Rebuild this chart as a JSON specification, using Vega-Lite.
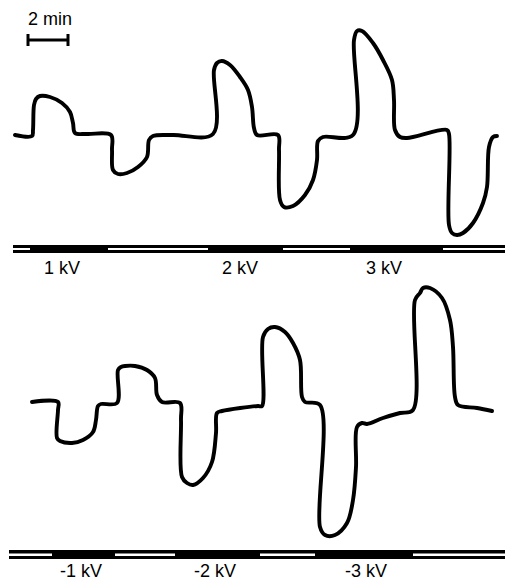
{
  "$schema": "https://vega.github.io/schema/vega-lite/v6.json",
  "padding": 0,
  "spacing": 0,
  "background": "white",
  "config": {
    "view": {"stroke": null},
    "concat": {"spacing": 0}
  },
  "datasets": {
    "traceTop": [
      {"i": 1, "t": 0.75, "s": 0}, {"i": 2, "t": 1.6, "s": -0.1}, {"i": 3, "t": 1.65, "s": 0.5}, {"i": 4, "t": 1.7, "s": 3.0},
      {"i": 5, "t": 1.8, "s": 3.6}, {"i": 6, "t": 2.0, "s": 3.9}, {"i": 7, "t": 2.5, "s": 3.8}, {"i": 8, "t": 3.1, "s": 3.2},
      {"i": 9, "t": 3.5, "s": 2.3}, {"i": 10, "t": 3.65, "s": 1.2}, {"i": 11, "t": 3.75, "s": 0.2}, {"i": 12, "t": 4.35, "s": 0.1},
      {"i": 13, "t": 5.55, "s": 0}, {"i": 14, "t": 5.6, "s": -1.5}, {"i": 15, "t": 5.65, "s": -3.5}, {"i": 16, "t": 5.9, "s": -3.9},
      {"i": 17, "t": 6.35, "s": -3.8}, {"i": 18, "t": 6.9, "s": -3.2}, {"i": 19, "t": 7.35, "s": -2.2}, {"i": 20, "t": 7.45, "s": -0.5},
      {"i": 21, "t": 7.65, "s": -0.1}, {"i": 22, "t": 8.65, "s": 0}, {"i": 23, "t": 10.65, "s": 0.1}, {"i": 24, "t": 10.7, "s": 6.5},
      {"i": 25, "t": 10.85, "s": 7.2}, {"i": 26, "t": 11.1, "s": 7.4}, {"i": 27, "t": 11.5, "s": 7.0}, {"i": 28, "t": 12.0, "s": 5.8},
      {"i": 29, "t": 12.4, "s": 4.5}, {"i": 30, "t": 12.6, "s": 2.8}, {"i": 31, "t": 12.7, "s": 0.7}, {"i": 32, "t": 12.85, "s": 0},
      {"i": 33, "t": 13.9, "s": 0}, {"i": 34, "t": 13.95, "s": -1.5}, {"i": 35, "t": 14.0, "s": -6.5}, {"i": 36, "t": 14.2, "s": -7.2},
      {"i": 37, "t": 14.65, "s": -7.1}, {"i": 38, "t": 15.25, "s": -6.0}, {"i": 39, "t": 15.65, "s": -4.5}, {"i": 40, "t": 15.85, "s": -2.5},
      {"i": 41, "t": 15.9, "s": -0.6}, {"i": 42, "t": 16.15, "s": -0.2}, {"i": 43, "t": 17.65, "s": 0}, {"i": 44, "t": 17.7, "s": 9.5},
      {"i": 45, "t": 17.85, "s": 10.4}, {"i": 46, "t": 18.1, "s": 10.4}, {"i": 47, "t": 18.65, "s": 9.2}, {"i": 48, "t": 19.15, "s": 7.5},
      {"i": 49, "t": 19.6, "s": 5.5}, {"i": 50, "t": 19.7, "s": 3.5}, {"i": 51, "t": 19.75, "s": 0.5}, {"i": 52, "t": 20.0, "s": -0.2},
      {"i": 53, "t": 20.35, "s": -0.3}, {"i": 54, "t": 22.35, "s": 0.5}, {"i": 55, "t": 22.45, "s": 0.1}, {"i": 56, "t": 22.45, "s": -9.0},
      {"i": 57, "t": 22.6, "s": -9.8}, {"i": 58, "t": 22.85, "s": -10.0}, {"i": 59, "t": 23.15, "s": -9.8}, {"i": 60, "t": 23.65, "s": -8.8},
      {"i": 61, "t": 24.15, "s": -6.8}, {"i": 62, "t": 24.35, "s": -5.2}, {"i": 63, "t": 24.45, "s": -1.2}, {"i": 64, "t": 24.65, "s": -0.2},
      {"i": 65, "t": 24.85, "s": -0.1}
    ],
    "traceBottom": [
      {"i": 1, "t": 1.6, "s": 0.3}, {"i": 2, "t": 2.9, "s": 0.3}, {"i": 3, "t": 2.9, "s": -0.5}, {"i": 4, "t": 2.85, "s": -3.3},
      {"i": 5, "t": 3.0, "s": -3.6}, {"i": 6, "t": 3.6, "s": -3.8}, {"i": 7, "t": 4.15, "s": -3.5}, {"i": 8, "t": 4.65, "s": -2.7},
      {"i": 9, "t": 4.8, "s": -1.5}, {"i": 10, "t": 4.9, "s": -0.1}, {"i": 11, "t": 5.05, "s": 0.1}, {"i": 12, "t": 5.85, "s": 0.2},
      {"i": 13, "t": 5.9, "s": 3.5}, {"i": 14, "t": 6.05, "s": 3.8}, {"i": 15, "t": 6.25, "s": 3.9}, {"i": 16, "t": 6.75, "s": 3.9},
      {"i": 17, "t": 7.35, "s": 3.5}, {"i": 18, "t": 7.75, "s": 2.7}, {"i": 19, "t": 7.85, "s": 1.0}, {"i": 20, "t": 8.1, "s": 0.3},
      {"i": 21, "t": 9.0, "s": 0.2}, {"i": 22, "t": 9.05, "s": -1.5}, {"i": 23, "t": 9.1, "s": -7.2}, {"i": 24, "t": 9.35, "s": -7.8},
      {"i": 25, "t": 9.65, "s": -8.0}, {"i": 26, "t": 10.15, "s": -7.3}, {"i": 27, "t": 10.6, "s": -5.7}, {"i": 28, "t": 10.8, "s": -2.8},
      {"i": 29, "t": 10.85, "s": -0.8}, {"i": 30, "t": 11.1, "s": -0.6}, {"i": 31, "t": 12.9, "s": -0.1}, {"i": 32, "t": 13.1, "s": -0.1},
      {"i": 33, "t": 13.15, "s": 6.8}, {"i": 34, "t": 13.4, "s": 7.6}, {"i": 35, "t": 13.75, "s": 7.8}, {"i": 36, "t": 14.25, "s": 7.3},
      {"i": 37, "t": 14.65, "s": 6.2}, {"i": 38, "t": 15.0, "s": 4.5}, {"i": 39, "t": 15.1, "s": 0.8}, {"i": 40, "t": 15.25, "s": 0.3},
      {"i": 41, "t": 16.0, "s": 0}, {"i": 42, "t": 16.0, "s": -12.2}, {"i": 43, "t": 16.25, "s": -13.0}, {"i": 44, "t": 16.75, "s": -13.0},
      {"i": 45, "t": 17.35, "s": -11.8}, {"i": 46, "t": 17.65, "s": -9.5}, {"i": 47, "t": 17.8, "s": -6.2}, {"i": 48, "t": 17.85, "s": -2.2},
      {"i": 49, "t": 18.1, "s": -1.8}, {"i": 50, "t": 18.35, "s": -1.9}, {"i": 51, "t": 19.15, "s": -1.3}, {"i": 52, "t": 20.0, "s": -0.8},
      {"i": 53, "t": 20.65, "s": -0.5}, {"i": 54, "t": 20.75, "s": 10.5}, {"i": 55, "t": 21.0, "s": 11.2}, {"i": 56, "t": 21.15, "s": 11.7},
      {"i": 57, "t": 21.5, "s": 11.7}, {"i": 58, "t": 22.1, "s": 10.7}, {"i": 59, "t": 22.5, "s": 8.5}, {"i": 60, "t": 22.65, "s": 5.8},
      {"i": 61, "t": 22.75, "s": 0.8}, {"i": 62, "t": 22.9, "s": 0}, {"i": 63, "t": 23.85, "s": -0.3}, {"i": 64, "t": 24.6, "s": -0.6}
    ],
    "stimTop": [
      {"start": 0.65, "end": 1.5, "state": "off"},
      {"start": 1.5, "end": 5.4, "state": "on", "label": "1 kV", "labelT": 3.1},
      {"start": 5.4, "end": 10.4, "state": "off"},
      {"start": 10.4, "end": 14.15, "state": "on", "label": "2 kV", "labelT": 12.0},
      {"start": 14.15, "end": 17.5, "state": "off"},
      {"start": 17.5, "end": 22.15, "state": "on", "label": "3 kV", "labelT": 19.2},
      {"start": 22.15, "end": 25.25, "state": "off"}
    ],
    "stimBottom": [
      {"start": 0.45, "end": 2.6, "state": "off"},
      {"start": 2.6, "end": 5.75, "state": "on", "label": "-1 kV", "labelT": 4.05},
      {"start": 5.75, "end": 8.75, "state": "off"},
      {"start": 8.75, "end": 13.0, "state": "on", "label": "-2 kV", "labelT": 10.75},
      {"start": 13.0, "end": 15.75, "state": "off"},
      {"start": 15.75, "end": 20.65, "state": "on", "label": "-3 kV", "labelT": 18.3},
      {"start": 20.65, "end": 25.25, "state": "off"}
    ],
    "scaleBar": [
      {"t0": 1.4, "t1": 3.4, "tMid": 2.5, "label": "2 min"}
    ]
  },
  "vconcat": [
    {
      "width": 505,
      "height": 285,
      "layer": [
        {
          "data": {"name": "scaleBar"},
          "mark": {"type": "rule", "strokeWidth": 3, "color": "black"},
          "encoding": {
            "x": {"field": "t0", "type": "quantitative", "scale": {"domain": [0, 25.25], "nice": false, "zero": false}, "axis": null},
            "x2": {"field": "t1"},
            "y": {"datum": 9.5, "type": "quantitative", "scale": {"domain": [-15, 13.5], "nice": false, "zero": false}, "axis": null}
          }
        },
        {
          "data": {"name": "scaleBar"},
          "mark": {"type": "rule", "strokeWidth": 3, "color": "black"},
          "encoding": {
            "x": {"field": "t0", "type": "quantitative"},
            "y": {"datum": 10.1, "type": "quantitative"},
            "y2": {"datum": 8.9}
          }
        },
        {
          "data": {"name": "scaleBar"},
          "mark": {"type": "rule", "strokeWidth": 3, "color": "black"},
          "encoding": {
            "x": {"field": "t1", "type": "quantitative"},
            "y": {"datum": 10.1, "type": "quantitative"},
            "y2": {"datum": 8.9}
          }
        },
        {
          "data": {"name": "scaleBar"},
          "mark": {"type": "text", "align": "center", "baseline": "alphabetic", "fontSize": 18, "font": "Liberation Sans", "color": "black"},
          "encoding": {
            "x": {"field": "tMid", "type": "quantitative"},
            "y": {"datum": 11.0, "type": "quantitative"},
            "text": {"field": "label"}
          }
        },
        {
          "data": {"name": "traceTop"},
          "mark": {"type": "line", "color": "black", "strokeWidth": 3.9, "strokeJoin": "round", "strokeCap": "round", "interpolate": "catmull-rom"},
          "encoding": {
            "x": {"field": "t", "type": "quantitative"},
            "y": {"field": "s", "type": "quantitative"},
            "order": {"field": "i", "type": "quantitative"}
          }
        },
        {
          "data": {"name": "stimTop"},
          "mark": {"type": "rect", "color": "black"},
          "encoding": {
            "x": {"field": "start", "type": "quantitative"},
            "x2": {"field": "end"},
            "y": {"datum": -11.0, "type": "quantitative"},
            "y2": {"datum": -11.8}
          }
        },
        {
          "data": {"name": "stimTop"},
          "transform": [{"filter": "datum.state === 'off'"}],
          "mark": {"type": "rect", "color": "white"},
          "encoding": {
            "x": {"field": "start", "type": "quantitative"},
            "x2": {"field": "end"},
            "y": {"datum": -11.3, "type": "quantitative"},
            "y2": {"datum": -11.5}
          }
        },
        {
          "data": {"name": "stimTop"},
          "transform": [{"filter": "datum.state === 'on'"}],
          "mark": {"type": "text", "align": "center", "baseline": "alphabetic", "fontSize": 18, "font": "Liberation Sans", "color": "black"},
          "encoding": {
            "x": {"field": "labelT", "type": "quantitative"},
            "y": {"datum": -13.9, "type": "quantitative"},
            "text": {"field": "label"}
          }
        }
      ]
    },
    {
      "width": 505,
      "height": 296,
      "layer": [
        {
          "data": {"name": "traceBottom"},
          "mark": {"type": "line", "color": "black", "strokeWidth": 3.9, "strokeJoin": "round", "strokeCap": "round", "interpolate": "catmull-rom"},
          "encoding": {
            "x": {"field": "t", "type": "quantitative", "scale": {"domain": [0, 25.25], "nice": false, "zero": false}, "axis": null},
            "y": {"field": "s", "type": "quantitative", "scale": {"domain": [-17.6, 12], "nice": false, "zero": false}, "axis": null},
            "order": {"field": "i", "type": "quantitative"}
          }
        },
        {
          "data": {"name": "stimBottom"},
          "mark": {"type": "rect", "color": "black"},
          "encoding": {
            "x": {"field": "start", "type": "quantitative"},
            "x2": {"field": "end"},
            "y": {"datum": -14.5, "type": "quantitative"},
            "y2": {"datum": -15.4}
          }
        },
        {
          "data": {"name": "stimBottom"},
          "transform": [{"filter": "datum.state === 'off'"}],
          "mark": {"type": "rect", "color": "white"},
          "encoding": {
            "x": {"field": "start", "type": "quantitative"},
            "x2": {"field": "end"},
            "y": {"datum": -14.85, "type": "quantitative"},
            "y2": {"datum": -15.1}
          }
        },
        {
          "data": {"name": "stimBottom"},
          "transform": [{"filter": "datum.state === 'on'"}],
          "mark": {"type": "text", "align": "center", "baseline": "alphabetic", "fontSize": 18, "font": "Liberation Sans", "color": "black"},
          "encoding": {
            "x": {"field": "labelT", "type": "quantitative"},
            "y": {"datum": -17.15, "type": "quantitative"},
            "text": {"field": "label"}
          }
        }
      ]
    }
  ]
}
